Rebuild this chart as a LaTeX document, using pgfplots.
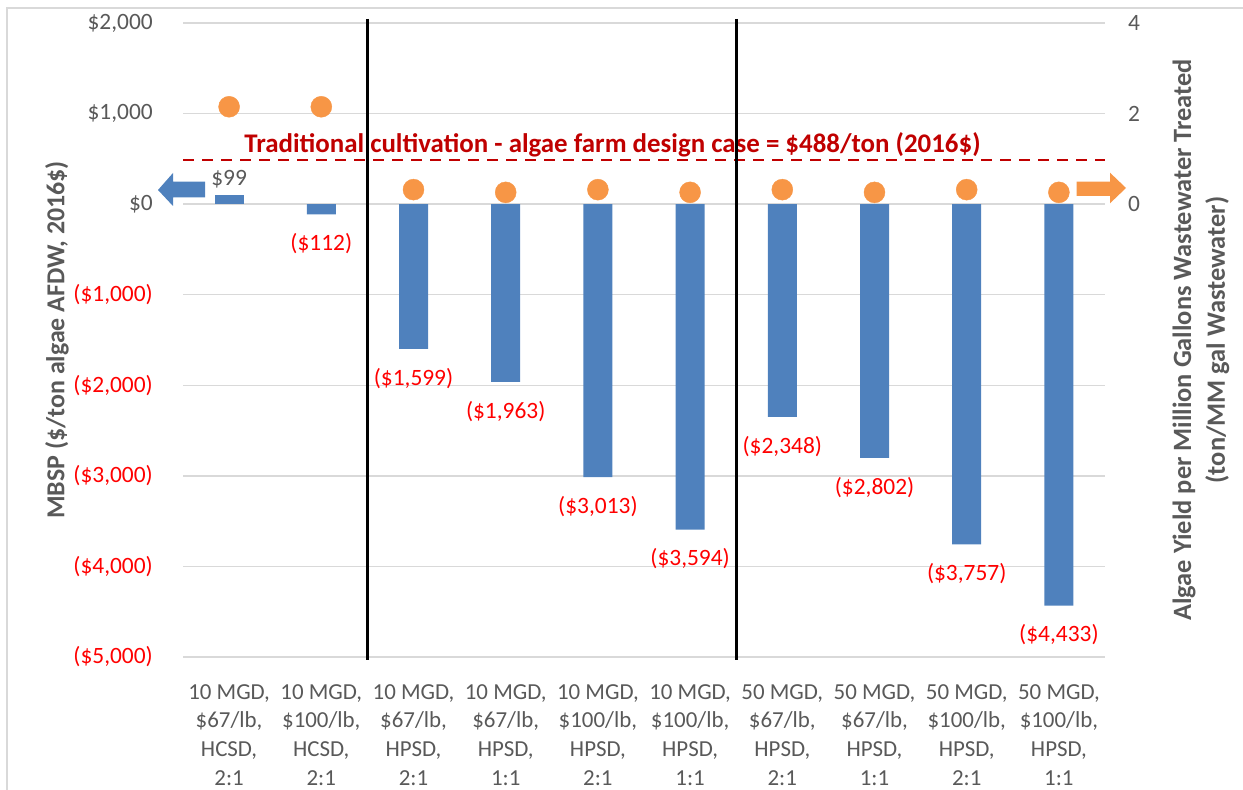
\documentclass[border=0pt]{standalone}
\usepackage{pgfplots}
\pgfplotsset{compat=1.18}
\usepackage{fontspec}
\setmainfont{Carlito}
\definecolor{txtgray}{HTML}{595959}
\definecolor{barblue}{HTML}{4F81BD}
\definecolor{dotorange}{HTML}{F79646}
\definecolor{gridgray}{HTML}{D9D9D9}
\definecolor{darkred}{HTML}{C00000}
\begin{document}
\begin{tikzpicture}
\useasboundingbox (0,0) rectangle (1243bp,790bp);
\draw[gridgray, line width=1.3bp] (7bp,0) -- (7bp,782bp) -- (1243bp,782bp);
\begin{axis}[
  at={(183bp,133bp)}, anchor=south west,
  width=922bp, height=634bp, scale only axis,
  xmin=-0.5, xmax=9.5, ymin=-5000, ymax=2000,
  axis line style={draw=none},
  tick style={draw=none}, major tick length=0pt,
  ymajorgrids, grid style={gridgray, line width=1.3bp},
  ytick={-5000,-4000,-3000,-2000,-1000,0,1000,2000},
  yticklabels={{\textcolor{red}{(\$5,000)}},{\textcolor{red}{(\$4,000)}},{\textcolor{red}{(\$3,000)}},{\textcolor{red}{(\$2,000)}},{\textcolor{red}{(\$1,000)}},{\$0},{\$1,000},{\$2,000}},
  yticklabel style={anchor=east, inner sep=0pt, xshift=-30bp, font=\fontsize{23.5}{28}\selectfont, text=txtgray},
  xtick={0,1,2,3,4,5,6,7,8,9},
  xticklabels={
    {10 MGD,\\\$67/lb,\\HCSD,\\2:1},
    {10 MGD,\\\$100/lb,\\HCSD,\\2:1},
    {10 MGD,\\\$67/lb,\\HPSD,\\2:1},
    {10 MGD,\\\$67/lb,\\HPSD,\\1:1},
    {10 MGD,\\\$100/lb,\\HPSD,\\2:1},
    {10 MGD,\\\$100/lb,\\HPSD,\\1:1},
    {50 MGD,\\\$67/lb,\\HPSD,\\2:1},
    {50 MGD,\\\$67/lb,\\HPSD,\\1:1},
    {50 MGD,\\\$100/lb,\\HPSD,\\2:1},
    {50 MGD,\\\$100/lb,\\HPSD,\\1:1}},
  xticklabel style={anchor=north, align=center, inner sep=0pt, yshift=-27bp, font=\fontsize{23}{29}\selectfont, text=txtgray},
  clip=false,
]
\addplot[ybar, bar width=29bp, fill=barblue, draw=none,
  nodes near coords, point meta=explicit symbolic,
  every node near coord/.append style={anchor=base, inner sep=0pt, yshift=9.5bp, text=txtgray, font=\fontsize{23.5}{28}\selectfont}]
  coordinates {(0,99) [\$99]};
\addplot[ybar, bar width=29bp, fill=barblue, draw=none,
  nodes near coords, point meta=explicit symbolic,
  every node near coord/.append style={anchor=north, inner sep=0pt, yshift=-19bp, text=red, font=\fontsize{23.5}{28}\selectfont}]
  coordinates {
    (1,-112) [(\$112)]
    (2,-1599) [(\$1,599)]
    (3,-1963) [(\$1,963)]
    (4,-3013) [(\$3,013)]
    (5,-3594) [(\$3,594)]
    (6,-2348) [(\$2,348)]
    (7,-2802) [(\$2,802)]
    (8,-3757) [(\$3,757)]
    (9,-4433) [(\$4,433)]
  };
\addplot[darkred, line width=2.75bp, dash pattern=on 11bp off 8bp] coordinates {(-0.5,488) (9.5,488)};
\node[anchor=base, inner sep=0pt, text=darkred, font=\bfseries\fontsize{27}{30}\selectfont] at (axis cs:4.158,575) {Traditional cultivation - algae farm design case = \$488/ton (2016\$)};
\addplot[black, line width=3.3bp] coordinates {(1.5,2045) (1.5,-5030)};
\addplot[black, line width=3.3bp] coordinates {(5.5,2045) (5.5,-5030)};
\end{axis}
\begin{axis}[
  at={(183bp,133bp)}, anchor=south west,
  width=922bp, height=634bp, scale only axis,
  xmin=-0.5, xmax=9.5, ymin=-10, ymax=4,
  axis y line*=right, axis x line=none,
  axis line style={draw=none}, tick style={draw=none}, major tick length=0pt,
  ytick={0,2,4}, yticklabels={0,2,4},
  yticklabel style={anchor=west, inner sep=0pt, xshift=23bp, font=\fontsize{23.5}{28}\selectfont, text=txtgray},
  clip=false,
]
\addplot[only marks, mark=*, color=dotorange, mark size=10.5bp, mark options={fill=dotorange, draw=dotorange}]
  coordinates {(0,2.15) (1,2.15) (2,0.32) (3,0.26) (4,0.32) (5,0.26) (6,0.32) (7,0.26) (8,0.32) (9,0.26)};
\end{axis}
\fill[barblue] (158bp,600bp) -- (173bp,617bp) -- (173bp,608.3bp) -- (205bp,608.3bp) -- (205bp,592.7bp) -- (173bp,592.7bp) -- (173bp,584bp) -- cycle;
\fill[dotorange] (1126bp,602bp) -- (1110bp,617.3bp) -- (1110bp,608.3bp) -- (1076.7bp,608.3bp) -- (1076.7bp,594bp) -- (1110bp,594bp) -- (1110bp,586.7bp) -- cycle;
\node[rotate=90, inner sep=0pt, text=txtgray, font=\bfseries\fontsize{26}{31}\selectfont] at (57bp,450bp) {MBSP (\$/ton algae AFDW, 2016\$)};
\node[rotate=90, align=center, inner sep=0pt, text=txtgray, font=\bfseries\fontsize{26.5}{34}\selectfont] at (1201bp,450bp) {Algae Yield per Million Gallons Wastewater Treated\\(ton/MM gal Wastewater)};
\end{tikzpicture}
\end{document}
